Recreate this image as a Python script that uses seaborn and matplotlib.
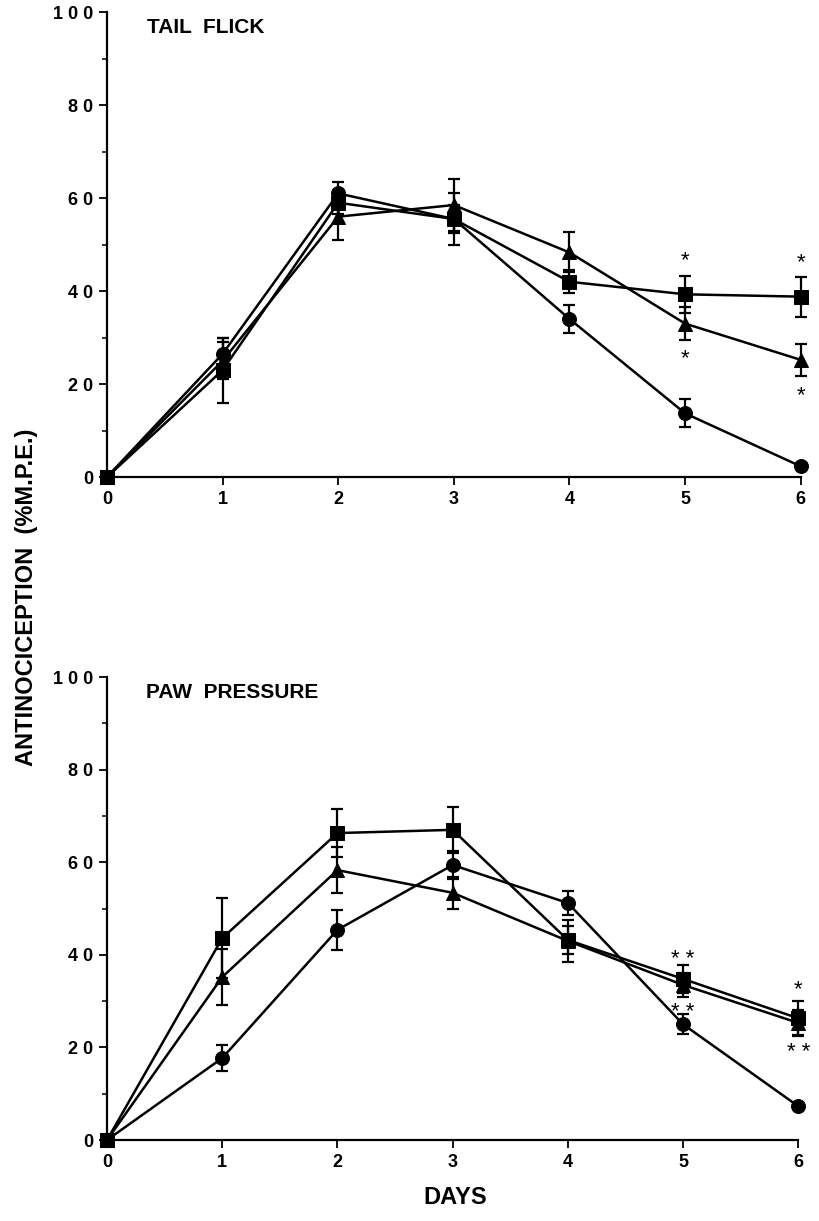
import numpy as np
import pandas as pd
import matplotlib
matplotlib.use("Agg")
import matplotlib.pyplot as plt
import seaborn as sns
from matplotlib.ticker import MultipleLocator

# ─── Data ───────────────────────────────────────────────────
days = [0, 1, 2, 3, 4, 5, 6]
groups = ["circle", "square", "triangle"]

# Tail flick
tail_circle = [0, 26.5, 61.0, 55.5, 34.0, 13.7, 2.3]
tail_circle_sem = [0, 3.5, 2.5, 3.0, 3.0, 3.0, 0.5]
tail_square = [0, 23.0, 59.0, 55.5, 42.0, 39.3, 38.8]
tail_square_sem = [0, 7.0, 2.5, 5.5, 2.5, 4.0, 4.3]
tail_triangle = [0, 25.0, 56.0, 58.5, 48.3, 33.0, 25.2]
tail_triangle_sem = [0, 4.0, 5.0, 5.5, 4.3, 3.5, 3.5]

# Paw pressure
paw_circle = [0, 17.7, 45.4, 59.4, 51.2, 25.0, 7.3]
paw_circle_sem = [0, 2.8, 4.3, 3.0, 2.5, 2.2, 0.5]
paw_square = [0, 43.6, 66.3, 67.0, 43.2, 34.8, 26.3]
paw_square_sem = [0, 8.7, 5.2, 5.0, 3.0, 3.0, 3.7]
paw_triangle = [0, 35.2, 58.3, 53.4, 43.0, 33.5, 25.3]
paw_triangle_sem = [0, 6.0, 5.0, 3.5, 4.5, 2.5, 2.8]

# significance marks (day, y, text)
tail_stars = [(5, 46.5, "*"), (5, 25.5, "*"), (6, 46, "*"), (6, 17.5, "*")]
paw_stars = [(5, 39, "* *"), (5, 27.5, "* *"), (6, 32.5, "*"), (6, 19, "* *")]

y_ticks = [0, 20, 40, 60, 80, 100]
y_tick_labels = ["0", "2 0", "4 0", "6 0", "8 0", "1 0 0"]

sns.set_style("ticks")
plt.rcParams["font.family"] = ["Liberation Sans", "DejaVu Sans"]
plt.rcParams["font.weight"] = "bold"
for key in ["text.color", "axes.labelcolor", "xtick.color", "ytick.color",
            "axes.edgecolor"]:
    plt.rcParams[key] = "black"

MARKERS = {"circle": "o", "square": "s", "triangle": "^"}
MSIZE = {"circle": 10, "square": 9.5, "triangle": 10}


def make_frame(circle, square, triangle):
    rows = []
    for g, vals in zip(groups, [circle, square, triangle]):
        for d, v in zip(days, vals):
            rows.append({"day": d, "value": v, "group": g})
    return pd.DataFrame(rows)


def draw_panel(ax, series, sems, title, stars):
    df = make_frame(*series)
    for g, sem in zip(groups, sems):
        sub = df[df["group"] == g]
        ax.errorbar(sub["day"], sub["value"], yerr=sem, fmt="none",
                    ecolor="black", elinewidth=1.6, capsize=4.5,
                    capthick=1.6, clip_on=False, zorder=2)
        sns.lineplot(data=sub, x="day", y="value", ax=ax, color="black",
                     marker=MARKERS[g], markersize=MSIZE[g],
                     markeredgecolor="black", linewidth=1.8,
                     legend=False, zorder=3)
    for line in ax.lines:
        line.set_clip_on(False)

    for d, y, txt in stars:
        ax.text(d, y, txt, ha="center", va="center", fontsize=16,
                fontweight="normal")

    ax.set_xlim(0, 6)
    ax.set_ylim(0, 100)
    ax.set_xticks(days)
    ax.set_xticklabels([str(d) for d in days], fontsize=13, fontweight="bold")
    ax.set_yticks(y_ticks)
    ax.set_yticklabels(y_tick_labels, fontsize=13, fontweight="bold")
    ax.yaxis.set_minor_locator(MultipleLocator(10))
    ax.tick_params(axis="both", which="major", direction="out", length=6,
                   width=1.3, pad=4)
    ax.tick_params(axis="y", which="minor", direction="out", length=3.5,
                   width=1.1)
    ax.set_xlabel("")
    ax.set_ylabel("")
    sns.despine(ax=ax)
    for s in ["left", "bottom"]:
        ax.spines[s].set_linewidth(1.6)
    ax.text(0.057, 0.987, title, transform=ax.transAxes, ha="left",
            va="top", fontsize=15, fontweight="bold")


fig = plt.figure(figsize=(8.2, 12.21), dpi=100)
ax_top = fig.add_axes([0.1305, 0.6093, 0.846, 0.3808])
ax_bot = fig.add_axes([0.1305, 0.0663, 0.843, 0.3792])

draw_panel(ax_top,
           [tail_circle, tail_square, tail_triangle],
           [tail_circle_sem, tail_square_sem, tail_triangle_sem],
           "TAIL  FLICK", tail_stars)
draw_panel(ax_bot,
           [paw_circle, paw_square, paw_triangle],
           [paw_circle_sem, paw_square_sem, paw_triangle_sem],
           "PAW  PRESSURE", paw_stars)

fig.text(0.032, 0.511, "ANTINOCICEPTION  (%M.P.E.)", rotation=90,
         ha="center", va="center", fontsize=17, fontweight="bold")
fig.text(0.555, 0.019, "DAYS", ha="center", va="center", fontsize=17,
         fontweight="bold")

fig.savefig("out.png", dpi=100)
